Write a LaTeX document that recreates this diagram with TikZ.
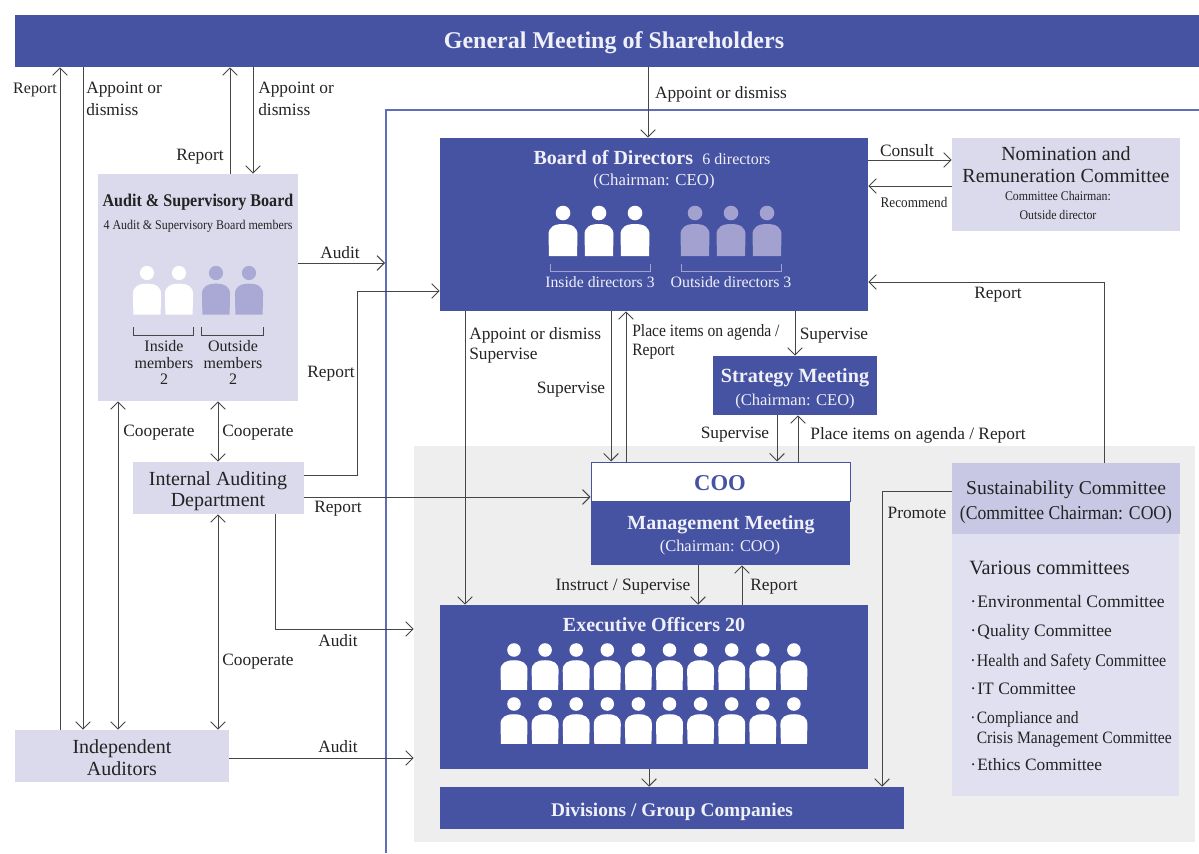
\documentclass[tikz,border=0pt]{standalone}
\usepackage{fontspec}
\setmainfont{Liberation Serif}
\newfontfamily\condn[FakeStretch=0.9]{Liberation Serif}
\usetikzlibrary{arrows.meta,fit}
\definecolor{navy}{RGB}{70,83,163}
\definecolor{lav}{RGB}{218,218,236}
\definecolor{lavd}{RGB}{201,200,228}
\definecolor{lavl}{RGB}{224,224,241}
\definecolor{pale}{RGB}{238,238,238}
\definecolor{ppl}{RGB}{163,161,208}
\definecolor{ppla}{RGB}{170,168,212}
\definecolor{ink}{RGB}{35,35,35}
\definecolor{wire}{RGB}{70,70,70}
\definecolor{frame}{RGB}{95,110,185}
\definecolor{soft}{RGB}{240,240,248}
\newcommand{\fnt}[1]{\fontsize{#1}{#1}\selectfont}
\newcommand{\person}[4]{% x, y of head, scale, colour
  \fill[#4] (#1,#2) circle[radius=7.3*#3];
  \fill[#4] ({#1-14*#3},{#2+43*#3}) -- ({#1-14.5*#3},{#2+22*#3})
    .. controls ({#1-14.5*#3},{#2+14*#3}) and ({#1-9*#3},{#2+11*#3}) .. (#1,{#2+11*#3})
    .. controls ({#1+9*#3},{#2+11*#3}) and ({#1+14.5*#3},{#2+14*#3}) .. ({#1+14.5*#3},{#2+22*#3})
    -- ({#1+14*#3},{#2+43*#3}) -- cycle;}
\tikzset{
  x=0.75pt,y=-0.75pt,
  >={Straight Barb[length=5.5pt,width=11pt,line width=0.75pt]},
  conn/.style={draw=wire,line width=0.75pt},
  navybox/.style={fill=navy,inner sep=0pt,draw=none},
  lavbox/.style={fill=lav,inner sep=0pt,draw=none},
  lbl/.style={text=ink,inner sep=0pt,align=left,yshift=-1.5pt,font=\fontsize{13}{16}\selectfont},
  head/.style={text=soft,inner sep=0pt,align=center,yshift=-1.5pt},
  brk/.style={draw=#1,line width=0.75pt},
}
\begin{document}
\begin{tikzpicture}
\useasboundingbox (0,0) rectangle (1199,853);
\fill[white] (0,0) rectangle (1199,853);
% frame
\coordinate (frB) at (386,853);
\coordinate (frC) at (386,110);
\coordinate (frR) at (1199,110);
\draw[frame,line width=0.9pt] (frB) -- (frC) -- (frR);
% boxes
\node[fit={(414,446)(1195,842)},fill=pale,inner sep=0pt] (panel) {};
\node[navybox,fit={(15,15)(1199,67)}] (gm) {};
\node[navybox,fit={(440,138)(868,311)}] (bod) {};
\node[lavbox,fit={(952,138)(1180,231)}] (nom) {};
\node[lavbox,fit={(98,174)(298,401)}] (asb) {};
\node[lavbox,fit={(133,462)(304,514)}] (iad) {};
\node[lavbox,fit={(15,730)(229,782)}] (ind) {};
\node[navybox,fit={(713,356)(877,415)}] (str) {};
\node[fit={(591,462)(850,501)},fill=white,draw=navy,line width=0.75pt,inner sep=0pt] (coo) {};
\node[navybox,fit={(591,501)(850,565)}] (mgt) {};
\node[navybox,fit={(440,605)(868,769)}] (exe) {};
\node[navybox,fit={(440,787)(904,829)}] (div) {};
\node[fit={(952,534)(1179,796)},fill=lavl,inner sep=0pt] (var) {};
\node[fit={(952,463)(1180,534)},fill=lavd,inner sep=0pt] (sus) {};
% box texts
\node[head,font=\bfseries\fnt{18}] (tgm) at (614,41) {General Meeting of Shareholders};
\node[head,font=\fnt{12}] (tbod) at (652,156) {{\bfseries\fnt{15}Board of Directors}\hspace{7pt}6 directors};
\node[head,font=\fnt{12.6}] (tchr) at (654,179) {(Chairman: CEO)};
\node[head,font=\fnt{11.8}] (tins) at (600,280) {Inside directors 3};
\node[head,font=\fnt{11.9}] (tout) at (731,280) {Outside directors 3};
\node[lbl,align=center,font=\fontsize{15}{16.5}\selectfont] (tnom) at (1066,163) {Nomination and\\Remuneration Committee};
\node[lbl,align=center,font=\condn\fontsize{9.9}{14.25}\selectfont] (tnom2) at (1058,203.5) {Committee Chairman:\\Outside director};
\node[lbl,align=center,font=\condn\bfseries\fnt{13.4}] (tasb) at (198,200) {Audit \& Supervisory Board};
\node[lbl,align=center,font=\condn\fnt{10}] (tasb2) at (198,224) {4 Audit \& Supervisory Board members};
\node[lbl,align=center,font=\fontsize{12}{12.4}\selectfont] (tasi) at (164,360.5) {Inside\\members\\2};
\node[lbl,align=center,font=\fontsize{12}{12.4}\selectfont] (taso) at (233,360.5) {Outside\\members\\2};
\node[lbl,align=center,font=\fontsize{15}{16}\selectfont] (tiad) at (218,489) {Internal Auditing\\Department};
\node[lbl,align=center,font=\fontsize{15}{16.5}\selectfont] (tind) at (122,756) {Independent\\Auditors};
\node[head,font=\bfseries\fnt{15.1}] (tstr) at (795,376) {Strategy Meeting};
\node[head,font=\fnt{12.4}] (tstr2) at (795,400) {(Chairman: CEO)};
\node[head,text=navy,font=\bfseries\fnt{17}] (tcoo) at (720,481) {COO};
\node[head,font=\bfseries\fnt{15}] (tmgt) at (721,523) {Management Meeting};
\node[head,font=\fnt{12.3}] (tmgt2) at (720,546) {(Chairman: COO)};
\node[head,font=\bfseries\fnt{15}] (texe) at (654,622.5) {Executive Officers 20};
\node[head,font=\bfseries\fnt{14.5}] (tdiv) at (672,810) {Divisions / Group Companies};
\node[lbl,align=center,font=\fontsize{14.7}{18.75}\selectfont] (tsus) at (1066,500) {Sustainability Committee\\{\condn (Committee Chairman: COO)}};
\node[lbl,anchor=west,font=\fnt{15.2}] (tvar) at (969,566) {Various committees};
\node[lbl,anchor=west,font=\fnt{13.2}] (c1) at (970,599) {·\hspace{1pt}Environmental Committee};
\node[lbl,anchor=west,font=\fnt{13.1}] (c2) at (970,630) {·\hspace{1pt}Quality Committee};
\node[lbl,anchor=west,font=\condn\fnt{13.3}] (c3) at (970,660) {·\hspace{1pt}Health and Safety Committee};
\node[lbl,anchor=west,font=\fnt{13.1}] (c4) at (970,687) {·\hspace{1pt}IT Committee};
\node[lbl,anchor=west,font=\condn\fontsize{13}{15}\selectfont] (c5) at (970,727) {·\hspace{1pt}Compliance and\\\phantom{·}\hspace{1pt}Crisis Management Committee};
\node[lbl,anchor=west,font=\fnt{13}] (c6) at (970,763) {·\hspace{1pt}Ethics Committee};
% people
\foreach \px in {563,599,635} {\person{\px}{213}{1}{white}}
\foreach \px in {695,731,767} {\person{\px}{213}{1}{ppl}}
\foreach \px in {147,179} {\person{\px}{273}{0.97}{white}}
\foreach \px in {216,249} {\person{\px}{273}{0.97}{ppla}}
\foreach \i in {0,...,9} {
  \person{514+31.1*\i}{650}{0.93}{white}
  \person{514+31.1*\i}{704}{0.93}{white}
}
% brackets
\draw[brk=ppl] (550,264) -- (550,271) -- (650,271) -- (650,264);
\draw[brk=ppl] (681,264) -- (681,271) -- (781,271) -- (781,264);
\draw[brk=wire] (133,327) -- (133,335) -- (193,335) -- (193,327);
\draw[brk=wire] (201,327) -- (201,335) -- (263,335) -- (263,327);
% connectors
\coordinate (aud) at (385,263);
\begin{scope}[conn]
\draw[->] (ind.north -| 60,0) -- (gm.south -| 60,0);
\draw[->] (gm.south -| 83,0) -- (ind.north -| 83,0);
\draw[->] (asb.north -| 230,0) -- (gm.south -| 230,0);
\draw[->] (gm.south -| 253,0) -- (asb.north -| 253,0);
\draw[->] (gm.south -| 648,0) -- (bod.north -| 648,0);
\draw[->] (asb.east |- aud) -- (aud);
\draw[->] (iad.east |- 0,475) -- (357,475) -- (357,291) -- (bod.west |- 0,291);
\draw[<->] (asb.south -| 118,0) -- (ind.north -| 118,0);
\draw[<->] (asb.south -| 218,0) -- (iad.north -| 218,0);
\draw[<->] (iad.south -| 218,0) -- (ind.north -| 218,0);
\draw[->] (iad.east |- 0,497) -- (coo.west |- 0,497);
\draw[->] (iad.south -| 275,0) -- (275,629) -- (panel.west |- 0,629);
\draw[->] (ind.east |- 0,758) -- (panel.west |- 0,758);
\draw[->] (bod.south -| 465,0) -- (exe.north -| 465,0);
\draw[->] (bod.south -| 611,0) -- (coo.north -| 611,0);
\draw[->] (coo.north -| 626,0) -- (bod.south -| 626,0);
\draw[->] (bod.south -| 795,0) -- (str.north -| 795,0);
\draw[->] (str.south -| 777,0) -- (coo.north -| 777,0);
\draw[->] (coo.north -| 798,0) -- (str.south -| 798,0);
\draw[->] (bod.east |- 0,160) -- (nom.west |- 0,160);
\draw[->] (nom.west |- 0,186) -- (bod.east |- 0,186);
\draw[->] (sus.north -| 1104,0) -- (1104,282) -- (bod.east |- 0,282);
\draw[->] (sus.west |- 0,491) -- (882,491) -- (div.north -| 882,0);
\draw[->] (mgt.south -| 698,0) -- (exe.north -| 698,0);
\draw[->] (exe.north -| 742,0) -- (mgt.south -| 742,0);
\draw[->] (exe.south -| 649,0) -- (div.north -| 649,0);
\end{scope}
% connector labels
\node[lbl,font=\fnt{12}] (l1) at (35,88) {Report};
\node[lbl,anchor=west,font=\fontsize{13}{16.5}\selectfont] (l2) at (86,97) {Appoint or\\dismiss};
\node[lbl] (l3) at (200,155) {Report};
\node[lbl,anchor=west,font=\fontsize{13}{16.5}\selectfont] (l4) at (258,97) {Appoint or\\dismiss};
\node[lbl] (l5) at (721,92) {Appoint or dismiss};
\node[lbl] (l6) at (340,251) {Audit};
\node[lbl] (l7) at (331,372) {Report};
\node[lbl] (l8) at (159,431) {Cooperate};
\node[lbl] (l9) at (258,431) {Cooperate};
\node[lbl] (l10) at (338,507) {Report};
\node[lbl] (l11) at (338,639) {Audit};
\node[lbl] (l12) at (258,660) {Cooperate};
\node[lbl] (l13) at (338,745) {Audit};
\node[lbl,anchor=west,font=\fontsize{13}{15}\selectfont] (l14) at (469,343) {Appoint or dismiss\\Supervise};
\node[lbl] (l15) at (571,388) {Supervise};
\node[lbl,anchor=west,font=\condn\fontsize{13}{14.25}\selectfont] (l16) at (632,340) {Place items on agenda /\\Report};
\node[lbl] (l17) at (834,334) {Supervise};
\node[lbl] (l18) at (735,433) {Supervise};
\node[lbl] (l19) at (918,433) {Place items on agenda / Report};
\node[lbl] (l20) at (907,149) {Consult};
\node[lbl,font=\condn\fnt{11}] (l21) at (914,200) {Recommend};
\node[lbl] (l22) at (998,293) {Report};
\node[lbl] (l23) at (917,511) {Promote};
\node[lbl] (l24) at (623,585) {Instruct / Supervise};
\node[lbl] (l25) at (774,585) {Report};
\end{tikzpicture}
\end{document}
